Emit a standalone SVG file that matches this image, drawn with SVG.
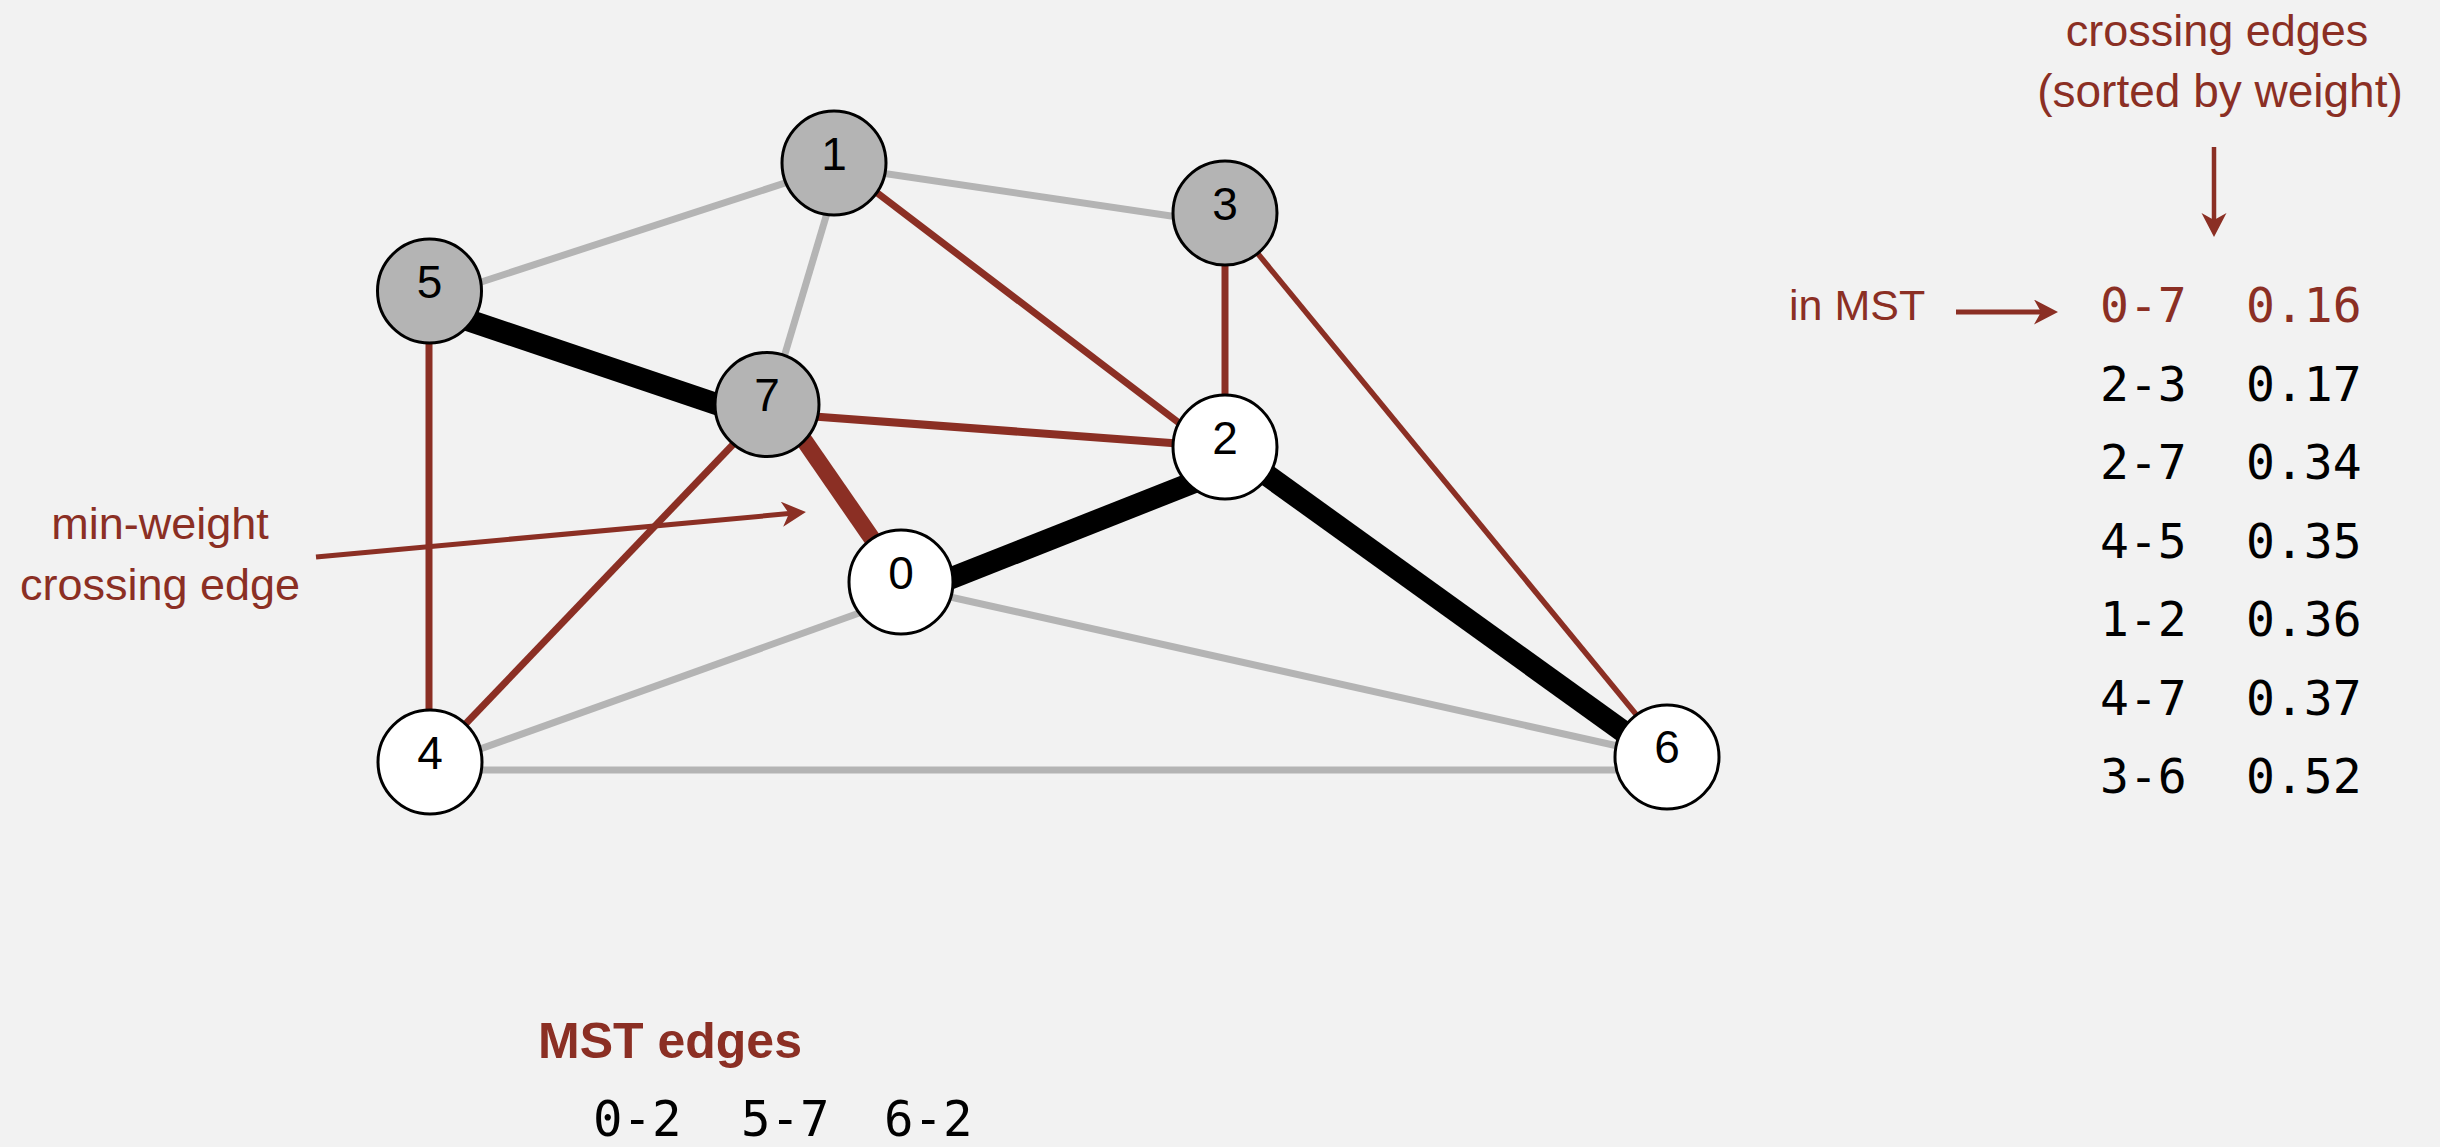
<svg xmlns="http://www.w3.org/2000/svg" width="2440" height="1147" viewBox="0 0 2440 1147">
<defs>
<style>
.bg{fill:#f2f2f2}
.e{fill:none;stroke-linecap:butt}
.gray{stroke:#b4b4b4;stroke-width:7}
.red{stroke:#8b2f24;stroke-width:7}
.redthick{stroke:#8b2f24;stroke-width:17}
.black{stroke:#000;stroke-width:22}
.nw{fill:#fff;stroke:#000;stroke-width:3}
.ng{fill:#b4b4b4;stroke:#000;stroke-width:3}
.nl{font-family:"Liberation Sans",Arial,sans-serif;font-size:46px;fill:#000;text-anchor:middle}
.lab{font-family:"Liberation Sans",Arial,sans-serif;font-size:45px;fill:#8b2f24}
.mono{font-family:"DejaVu Sans Mono","Liberation Mono",monospace;font-size:48px;fill:#000}
.arr{fill:none;stroke:#8b2f24;stroke-width:5}
</style>
<marker id="ah" markerUnits="userSpaceOnUse" markerWidth="26" markerHeight="26" refX="7" refY="12.5" orient="auto">
<path d="M0,0 L24,12.5 L0,25 L7,12.5 Z" fill="#8b2f24"/>
</marker>
</defs>
<rect class="bg" x="0" y="0" width="2440" height="1147"/>

<g id="connectors">
<path class="e gray" d="M834,167 L429,299"/>
<path class="e gray" d="M834,166 L1225,224"/>
<path class="e gray" d="M842,163 L770,404"/>
<path class="e gray" d="M901,598 L430,767"/>
<path class="e gray" d="M901,586 L1667,757"/>
<path class="e gray" d="M430,770 L1667,770"/>
<path class="e red" d="M834,160 L1225,458"/>
<path class="e red" d="M1225,213 L1225,447"/>
<path class="e red" style="stroke-width:5.5" d="M1222,210 L1667,752"/>
<path class="e red" d="M429,291 L429,762"/>
<path class="e red" style="stroke-width:8" d="M767,413 L1225,447"/>
<path class="e red" d="M430,761 L767,409"/>
<path class="e redthick" d="M779,404 L902,582"/>
<path class="e black" d="M429,307 L767,421"/>
<path class="e black" d="M901,598 L1225,470"/>
<path class="e black" d="M1225,445 L1667,763"/>
</g>

<g id="node0"><circle class="nw" cx="901" cy="582" r="52"/><text class="nl" x="901" y="589">0</text></g>
<g id="node1"><circle class="ng" cx="834" cy="163" r="52"/><text class="nl" x="834" y="170">1</text></g>
<g id="node2"><circle class="nw" cx="1225" cy="447" r="52"/><text class="nl" x="1225" y="454">2</text></g>
<g id="node3"><circle class="ng" cx="1225" cy="213" r="52"/><text class="nl" x="1225" y="220">3</text></g>
<g id="node4"><circle class="nw" cx="430" cy="762" r="52"/><text class="nl" x="430" y="769">4</text></g>
<g id="node5"><circle class="ng" cx="429.5" cy="291" r="52"/><text class="nl" x="429.5" y="298">5</text></g>
<g id="node6"><circle class="nw" cx="1667" cy="757" r="52"/><text class="nl" x="1667" y="763">6</text></g>
<g id="node7"><circle class="ng" cx="767" cy="404.5" r="52"/><text class="nl" x="767" y="411">7</text></g>

<g id="annotations">
<text class="lab" x="2217" y="46" text-anchor="middle">crossing edges</text>
<text class="lab" x="2220" y="107" text-anchor="middle" style="font-size:46px">(sorted by weight)</text>
<path class="arr" style="stroke-width:4.5" d="M2214,147 L2214,220" marker-end="url(#ah)"/>
<text class="lab" x="1789" y="320" style="font-size:43px">in MST</text>
<path class="arr" d="M1956,312 L2041,312" marker-end="url(#ah)"/>
<text class="lab" x="160" y="539" text-anchor="middle">min-weight</text>
<text class="lab" x="160" y="600" text-anchor="middle">crossing edge</text>
<path class="arr" d="M316,557 L789,513.6" marker-end="url(#ah)"/>
</g>

<g id="table">
<text class="mono" style="fill:#8b2f24" y="322"><tspan x="2100">0-7</tspan><tspan x="2246">0.16</tspan></text>
<text class="mono" y="401"><tspan x="2100">2-3</tspan><tspan x="2246">0.17</tspan></text>
<text class="mono" y="479"><tspan x="2100">2-7</tspan><tspan x="2246">0.34</tspan></text>
<text class="mono" y="558"><tspan x="2100">4-5</tspan><tspan x="2246">0.35</tspan></text>
<text class="mono" y="636"><tspan x="2100">1-2</tspan><tspan x="2246">0.36</tspan></text>
<text class="mono" y="715"><tspan x="2100">4-7</tspan><tspan x="2246">0.37</tspan></text>
<text class="mono" y="793"><tspan x="2100">3-6</tspan><tspan x="2246">0.52</tspan></text>
</g>

<g id="mst">
<text x="538" y="1058" style="font-family:'Liberation Sans',Arial,sans-serif;font-size:50px;font-weight:bold;fill:#8b2f24">MST edges</text>
<text class="mono" style="font-size:49px" y="1136"><tspan x="593">0-2</tspan><tspan x="741">5-7</tspan><tspan x="884">6-2</tspan></text>
</g>
</svg>
